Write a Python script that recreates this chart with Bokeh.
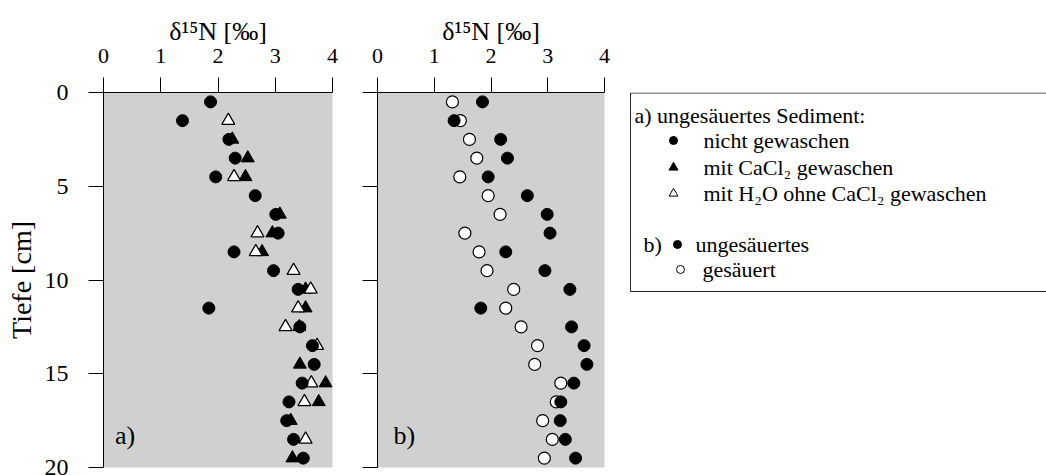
import numpy as np
from bokeh.plotting import figure
from bokeh.layouts import row
from bokeh.models import Range1d, FixedTicker
from bokeh.core.properties import value
from bokeh.embed import file_html
from bokeh.resources import INLINE

nan = float("nan")

# depth of each sample [cm]
depth = [0.5, 1.5, 2.5, 3.5, 4.5, 5.5, 6.5, 7.5, 8.5, 9.5,
         10.5, 11.5, 12.5, 13.5, 14.5, 15.5, 16.5, 17.5, 18.5, 19.5]

# panel a) ungesäuertes Sediment
a_nicht_gewaschen = [1.87, 1.38, 2.19, 2.30, 1.96, 2.65, 3.01, 3.05, 2.28, 2.97,
                     3.40, 1.84, 3.43, 3.65, 3.68, 3.47, 3.24, 3.20, 3.32, 3.49]
a_cacl2 = [nan, nan, 2.25, 2.52, 2.48, nan, 3.08, 2.95, 2.77, nan,
           3.53, 3.53, 3.42, nan, 3.43, 3.88, 3.76, 3.27, nan, 3.30]
a_h2o = [nan, 2.18, nan, nan, 2.28, nan, nan, 2.69, 2.66, 3.32,
         3.62, 3.40, 3.18, 3.73, nan, 3.63, 3.51, nan, 3.53, nan]

# panel b)
b_ungesaeuert = [1.85, 1.35, 2.17, 2.29, 1.95, 2.64, 2.99, 3.04, 2.26, 2.95,
                 3.39, 1.82, 3.42, 3.64, 3.69, 3.46, 3.23, 3.22, 3.31, 3.49]
b_gesaeuert = [1.32, 1.46, 1.62, 1.75, 1.45, 1.95, 2.16, 1.54, 1.79, 1.93,
               2.40, 2.26, 2.53, 2.82, 2.77, 3.23, 3.15, 2.91, 3.08, 2.94]

x_ticks = [0, 1, 2, 3, 4]
y_ticks = [0, 5, 10, 15, 20]

FONT = "Liberation Serif"
BG = "#d0d0d0"


def make_panel(width, left, right, show_y):
    p = figure(width=width, height=475, x_range=Range1d(0, 4), y_range=Range1d(20, 0),
               x_axis_location="above", output_backend="svg", toolbar_location=None,
               min_border_left=left, min_border_right=right, min_border_top=92,
               min_border_bottom=8)
    p.background_fill_color = BG
    p.border_fill_color = "white"
    p.outline_line_color = None
    p.grid.visible = False
    for ax in (p.xaxis, p.yaxis):
        ax.major_tick_out = 15
        ax.major_tick_in = 0
        ax.minor_tick_out = 0
        ax.minor_tick_in = 0
        ax.axis_line_color = "black"
        ax.major_tick_line_color = "black"
        ax.major_label_text_font = FONT
        ax.axis_label_text_font = FONT
        ax.axis_label_text_font_style = "normal"
        ax.major_label_text_color = "black"
        ax.axis_label_text_color = "black"
    p.xaxis.ticker = FixedTicker(ticks=x_ticks)
    p.yaxis.ticker = FixedTicker(ticks=y_ticks)
    p.xaxis.axis_label = "δ¹⁵N [‰]"
    p.xaxis.major_label_text_font_size = "22px"
    p.xaxis.axis_label_text_font_size = "26px"
    p.xaxis.major_label_standoff = 15
    p.xaxis.axis_label_standoff = 0
    if show_y:
        p.yaxis.axis_label = "Tiefe [cm]"
        p.yaxis.major_label_text_font_size = "24px"
        p.yaxis.axis_label_text_font_size = "28px"
        p.yaxis.major_label_standoff = 20
        p.yaxis.axis_label_standoff = 5
    else:
        p.yaxis.major_label_overrides = {t: "" for t in y_ticks}
        p.yaxis.major_label_standoff = 0
    return p


pa = make_panel(350, 103, 18, True)
pa.scatter(a_cacl2, depth, marker="triangle", size=13, fill_color="black", line_color="black")
pa.scatter(a_h2o, depth, marker="triangle", size=13, fill_color="white", line_color="black", line_width=1.2)
pa.scatter(a_nicht_gewaschen, depth, marker="circle", size=12, fill_color="black", line_color="black")
pa.text(x=[0.2], y=[18.3], text=["a)"], text_font=value(FONT), text_font_size="26px",
        text_baseline="middle", text_color="black")

pb = make_panel(262, 27, 8, False)
pb.scatter(b_gesaeuert, depth, marker="circle", size=12, fill_color="white", line_color="black", line_width=1.2)
pb.scatter(b_ungesaeuert, depth, marker="circle", size=12, fill_color="black", line_color="black")
pb.text(x=[0.28], y=[18.3], text=["b)"], text_font=value(FONT), text_font_size="26px",
        text_baseline="middle", text_color="black")

# legend panel: its frame is aligned with the panels' frames (page y 92..467),
# so the ranges are set in page-pixel coordinates
lw = 1046 - 350 - 262
pc = figure(width=lw, height=475, x_range=Range1d(612, 1046), y_range=Range1d(467, 92),
            x_axis_type=None, y_axis_type=None, output_backend="svg", toolbar_location=None,
            min_border_left=0, min_border_right=0, min_border_top=92, min_border_bottom=8)
pc.grid.visible = False
pc.outline_line_color = None
pc.background_fill_color = "white"
pc.border_fill_color = "white"
pc.quad(left=[630], right=[1080], top=[92.5], bottom=[291], fill_color=None,
        line_color="#222222", line_width=1)

leg_texts = ["a) ungesäuertes Sediment:", "nicht gewaschen", "mit CaCl₂ gewaschen",
             "mit H₂O ohne CaCl₂ gewaschen", "b)", "ungesäuertes", "gesäuert"]
leg_x = [634, 703, 703, 703, 643, 695, 702]
leg_y = [115, 140, 167, 193, 244, 244, 269]
pc.text(x=leg_x, y=leg_y, text=leg_texts, text_font=value(FONT), text_font_size="22px",
        text_baseline="middle", text_color="black")
pc.scatter([673, 677], [140, 244], marker="circle", size=8, fill_color="black", line_color="black")
pc.scatter([673], [167], marker="triangle", size=9, fill_color="black", line_color="black")
pc.scatter([673], [193], marker="triangle", size=9, fill_color="white", line_color="black", line_width=1)
pc.scatter([680], [269], marker="circle", size=8, fill_color="white", line_color="black", line_width=1)

layout = row(pa, pb, pc)
open("out.html", "w").write(file_html(layout, INLINE))
